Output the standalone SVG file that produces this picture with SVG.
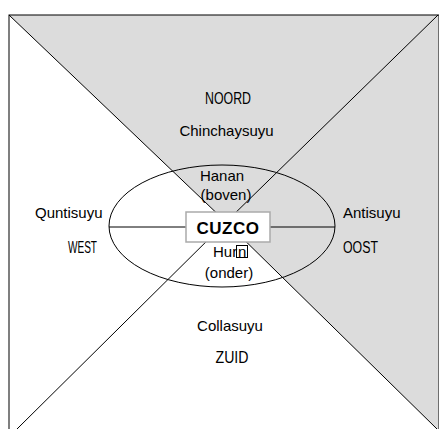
<svg xmlns="http://www.w3.org/2000/svg" width="439" height="429" viewBox="0 0 439 429">
<style>
.t{font-family:"Liberation Sans",Arial,sans-serif;font-size:15px;fill:#000}
.c{font-size:16px}
.m{text-anchor:middle}
.ln{stroke:#000;stroke-width:1;fill:none}
</style>
<rect width="439" height="429" fill="#fff"/>
<g id="sectors">
<polygon points="9,15 439,15 439,431 226,222" fill="#dcdcdc"/>
</g>
<g id="connectors">
<rect x="9" y="15" width="430" height="420" class="ln"/>
<line x1="9" y1="15" x2="226" y2="222" class="ln"/>
<line x1="438" y1="15" x2="226" y2="222" class="ln"/>
<line x1="226" y1="222" x2="17" y2="429" class="ln"/>
<line x1="226" y1="222" x2="437" y2="429" class="ln"/>
<line x1="109" y1="227" x2="335" y2="227" class="ln"/>
</g>
<g id="ring"><ellipse cx="222" cy="226" rx="113" ry="61" class="ln"/></g>
<g id="noord">
<text class="t c m" x="228" y="104" textLength="46" lengthAdjust="spacingAndGlyphs">NOORD</text>
<text class="t m" x="226.5" y="136">Chinchaysuyu</text>
</g>
<g id="hanan">
<text class="t m" x="222" y="181">Hanan</text>
<text class="t m" x="226" y="200">(boven)</text>
</g>
<g id="cuzco">
<rect x="186" y="212" width="84" height="30" fill="#fff" stroke="#aaa" stroke-width="1.5"/>
<text class="t m" x="228" y="234" style="font-size:17px;font-weight:bold;letter-spacing:0.5px">CUZCO</text>
</g>
<g id="hurin">
<text class="t" x="213" y="257">Hur<tspan x="238">n</tspan></text>
<rect x="236.5" y="245.5" width="11" height="12" fill="none" stroke="#000" stroke-width="1"/>
<text class="t m" x="229" y="278">(onder)</text>
</g>
<g id="zuid">
<text class="t m" x="230" y="331">Collasuyu</text>
<text class="t c m" x="232" y="363" textLength="33" lengthAdjust="spacingAndGlyphs">ZUID</text>
</g>
<g id="west">
<text class="t" x="35" y="218">Quntisuyu</text>
<text class="t c" x="68" y="253" textLength="29" lengthAdjust="spacingAndGlyphs">WEST</text>
</g>
<g id="oost">
<text class="t" x="343" y="218">Antisuyu</text>
<text class="t c" x="343" y="253" textLength="35" lengthAdjust="spacingAndGlyphs">OOST</text>
</g>
</svg>
